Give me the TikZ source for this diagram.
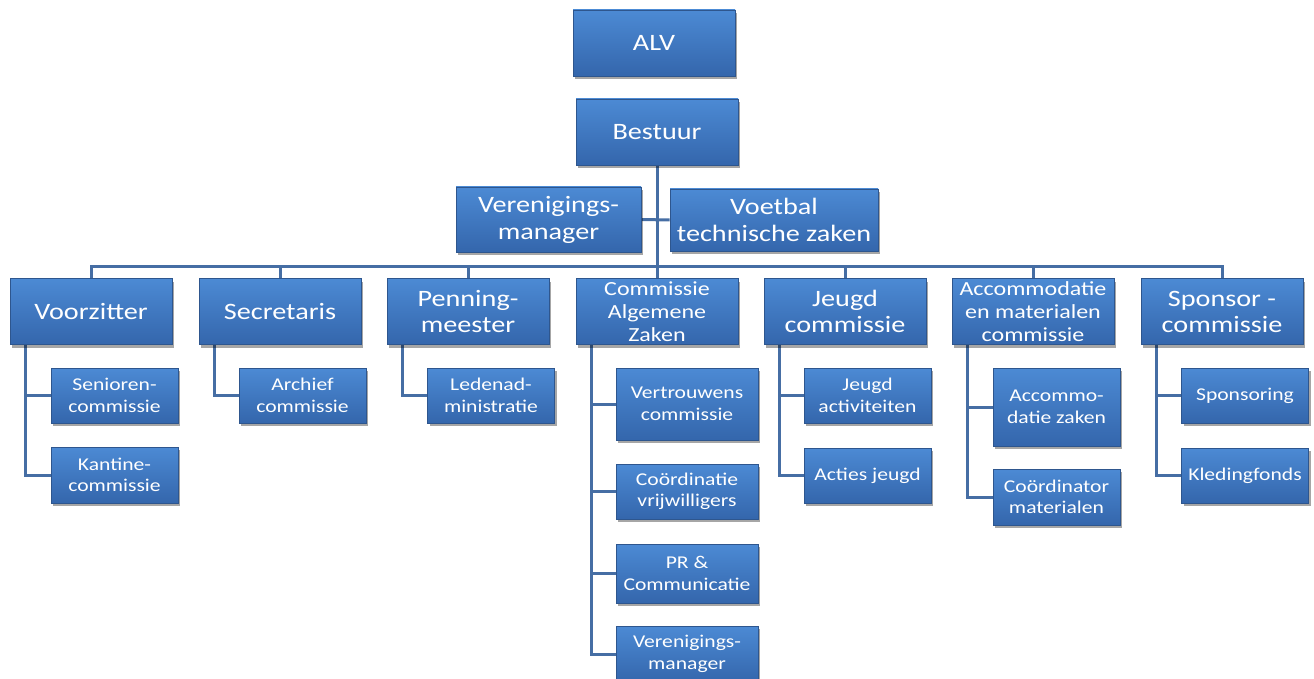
\documentclass[tikz,border=0pt]{standalone}
\usepackage{fontspec}
\setmainfont{Carlito}[FakeStretch=1.2]
\usetikzlibrary{shadows,backgrounds}
\definecolor{boxtop}{RGB}{76,138,212}
\definecolor{boxbot}{RGB}{52,102,172}
\definecolor{boxedge}{RGB}{46,86,142}
\definecolor{linec}{RGB}{70,110,164}
\newcommand{\fsA}{\fontsize{23.5}{27}\selectfont}
\newcommand{\fsB}{\fontsize{23.5}{26}\selectfont}
\newcommand{\fsD}{\fontsize{20}{23}\selectfont}
\newcommand{\fsC}{\fontsize{18}{21.5}\selectfont}
\tikzset{
  box/.style={draw=boxedge, line width=0.8pt, top color=boxtop, bottom color=boxbot,
    text=white, align=center, inner sep=0pt,
    drop shadow={shadow xshift=2pt, shadow yshift=-3pt, opacity=0.35, fill=black}},
  hibox/.style={box, minimum width=162pt, minimum height=66pt, font=\fsA},
  midbox/.style={box, minimum width=162pt, minimum height=66pt, font=\fsB},
  kidbox/.style={box, minimum width=127pt, font=\fsC},
  conn/.style={draw=linec, line width=3pt},
}
\begin{document}
\begin{tikzpicture}[x=1pt,y=1pt]
\useasboundingbox (0,0) rectangle (1314,-679);
% top
\node[hibox] (alv) at (654,-43) {ALV};
\node[hibox] (best) at (657,-132) {Bestuur};
\node[hibox, minimum width=185pt, minimum height=65pt] (vm) at (548.5,-219.5) {Verenigings-\\manager};
\node[hibox, minimum width=208pt, minimum height=62pt] (vtz) at (774,-220) {Voetbal\\technische zaken};
% level 2
\node[midbox] (voor) at (91,-311.5) {Voorzitter};
\node[midbox] (secr) at (280,-311.5) {Secretaris};
\node[midbox] (penn) at (468,-311.5) {Penning-\\meester};
\node[midbox, font=\fsD] (caz) at (657,-311.5) {Commissie\\Algemene\\Zaken};
\node[midbox] (jeugd) at (845,-311.5) {Jeugd\\commissie};
\node[midbox, font=\fsD] (acc) at (1033,-311.5) {Accommodatie\\en materialen\\commissie};
\node[midbox] (spon) at (1222,-311.5) {Sponsor -\\commissie};
% children
\node[kidbox, minimum height=55pt] (sen) at (114.5,-395.5) {Senioren-\\commissie};
\node[kidbox, minimum height=56pt] (kan) at (114.5,-475) {Kantine-\\commissie};
\node[kidbox, minimum height=55pt] (arch) at (302.5,-395.5) {Archief\\commissie};
\node[kidbox, minimum height=55pt] (led) at (491,-395.5) {Ledenad-\\ministratie};
\node[kidbox, minimum width=142pt, minimum height=72pt] (vert) at (687,-404) {Vertrouwens\\commissie};
\node[kidbox, minimum width=142pt, minimum height=55pt] (coor) at (687,-491.5) {Coördinatie\\vrijwilligers};
\node[kidbox, minimum width=142pt, minimum height=59pt] (pr) at (687,-573.5) {PR \&\\Communicatie};
\node[kidbox, minimum width=142pt, minimum height=56pt] (vm2) at (687,-654) {Verenigings-\\manager};
\node[kidbox, minimum height=55pt] (jact) at (867.5,-395.5) {Jeugd\\activiteiten};
\node[kidbox, minimum height=55pt] (acties) at (867.5,-475.5) {Acties jeugd};
\node[kidbox, minimum height=78pt] (acz) at (1056.5,-407) {Accommo-\\datie zaken};
\node[kidbox, minimum height=56pt] (cmat) at (1056.5,-497) {Coördinator\\materialen};
\node[kidbox, minimum height=55pt] (sponsoring) at (1245,-395.5) {Sponsoring};
\node[kidbox, minimum height=55pt] (kled) at (1245,-475.5) {Kledingfonds};
\coordinate (bus) at (657,-266);
\begin{scope}[on background layer]
\draw[conn] (best.south) -- (caz.north);
\draw[conn] (vm.east) -- (vtz.west);
\draw[conn] (voor.north) -- (voor.north |- bus) -- (spon.north |- bus) -- (spon.north);
\foreach \n in {secr,penn,jeugd,acc}
  \draw[conn] (\n.north) -- (\n.north |- bus);
\foreach \p/\c in {voor/sen, voor/kan, secr/arch, penn/led, caz/vert, caz/coor, caz/pr, caz/vm2,
                   jeugd/jact, jeugd/acties, acc/acz, acc/cmat, spon/sponsoring, spon/kled}
  \draw[conn] ([xshift=16pt]\p.south west) |- (\c.west);
\end{scope}
\end{tikzpicture}
\end{document}
